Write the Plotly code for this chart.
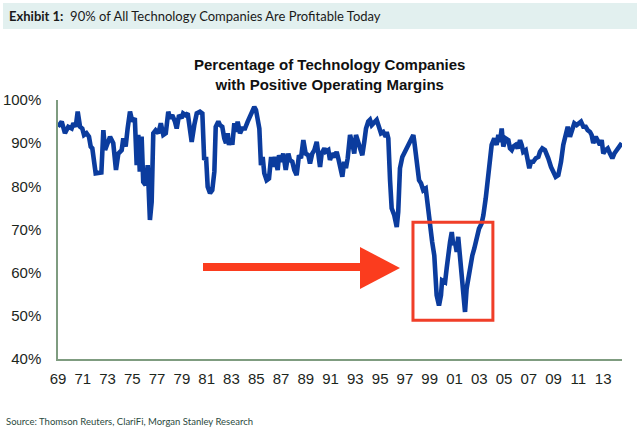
import plotly.graph_objects as go

# ---- data (decimal year, % of tech companies with positive operating margins) ----
years = [
    1969.0, 1969.3, 1969.56, 1969.83, 1970.1, 1970.24, 1970.43, 1970.59, 1970.78, 1970.96,
    1971.1, 1971.3, 1971.5, 1971.64, 1971.77, 1971.93, 1972.04, 1972.5, 1972.66, 1972.8,
    1972.93, 1973.06, 1973.2, 1973.46, 1973.68, 1973.87, 1974.14, 1974.27, 1974.46, 1974.62,
    1974.81, 1975.0, 1975.2, 1975.35, 1975.48, 1975.6, 1975.75, 1975.88, 1976.07, 1976.24,
    1976.42, 1976.56, 1976.69, 1976.88, 1977.1, 1977.3, 1977.5, 1977.7, 1977.9, 1978.04,
    1978.22, 1978.44, 1978.58, 1978.77, 1978.98, 1979.1, 1979.3, 1979.47, 1979.65, 1979.79,
    1980.0, 1980.2, 1980.46, 1980.65, 1980.8, 1980.95, 1981.08, 1981.27, 1981.45, 1981.62,
    1981.73, 1981.94, 1982.07, 1982.26, 1982.42, 1982.56, 1982.7, 1982.8, 1982.96, 1983.07,
    1983.23, 1983.34, 1983.5, 1983.69, 1983.87, 1984.09, 1984.31, 1984.5, 1984.68, 1984.84,
    1984.98, 1985.12, 1985.25, 1985.38, 1985.52, 1985.65, 1985.84, 1986.03, 1986.2, 1986.35,
    1986.5, 1986.73, 1986.84, 1987.0, 1987.18, 1987.38, 1987.59, 1987.72, 1987.91, 1988.07,
    1988.26, 1988.45, 1988.61, 1988.8, 1988.99, 1989.2, 1989.34, 1989.52, 1989.69, 1989.88,
    1990.0, 1990.15, 1990.28, 1990.5, 1990.6, 1990.82, 1990.95, 1991.14, 1991.36, 1991.49,
    1991.62, 1991.76, 1991.95, 1992.1, 1992.24, 1992.38, 1992.57, 1992.75, 1992.91, 1993.05,
    1993.24, 1993.38, 1993.56, 1993.72, 1993.86, 1994.04, 1994.18, 1994.32, 1994.53, 1994.72,
    1994.9, 1995.07, 1995.25, 1995.45, 1995.53, 1995.66, 1995.8, 1995.93, 1996.14, 1996.34,
    1996.46, 1996.6, 1996.79, 1997.0, 1997.22, 1997.41, 1997.68, 1997.76, 1997.95, 1998.14,
    1998.3, 1998.48, 1998.68, 1998.84, 1999.02, 1999.2, 1999.37, 1999.48, 1999.56, 1999.75,
    1999.91, 2000.0, 2000.24, 2000.37, 2000.5, 2000.64, 2000.78, 2000.9, 2001.04, 2001.18,
    2001.3, 2001.45, 2001.58, 2001.72, 2001.85, 2001.98, 2002.11, 2002.25, 2002.44, 2002.6,
    2002.79, 2002.98, 2003.19, 2003.33, 2003.52, 2003.68, 2003.81, 2004.0, 2004.21, 2004.4,
    2004.54, 2004.67, 2004.81, 2004.94, 2005.13, 2005.35, 2005.48, 2005.62, 2005.75, 2005.94,
    2006.1, 2006.29, 2006.42, 2006.55, 2006.75, 2006.91, 2007.04, 2007.18, 2007.36, 2007.56,
    2007.77, 2007.9, 2008.09, 2008.3, 2008.44, 2008.57, 2008.79, 2008.98, 2009.17, 2009.38,
    2009.6, 2009.78, 2009.98, 2010.14, 2010.32, 2010.51, 2010.67, 2010.86, 2011.05, 2011.21,
    2011.4, 2011.59, 2011.75, 2011.94, 2012.07, 2012.2, 2012.4, 2012.56, 2012.74, 2012.88,
    2013.01, 2013.2, 2013.37, 2013.55, 2013.74, 2013.9, 2014.09, 2014.28, 2014.5,
]
pct_positive = [
    93.8, 95.0, 92.3, 93.8, 93.4, 94.6, 93.8, 97.3, 93.8, 93.4,
    91.9, 92.3, 91.5, 89.2, 88.8, 85.7, 83.0, 83.2, 93.0, 88.4,
    89.6, 90.7, 91.5, 90.0, 83.8, 87.6, 88.4, 91.1, 89.2, 93.4,
    97.3, 95.0, 95.8, 84.9, 91.9, 83.4, 91.5, 81.0, 80.3, 84.9,
    72.2, 76.4, 92.3, 93.0, 92.3, 94.6, 91.9, 92.3, 97.3, 95.8,
    96.5, 95.0, 93.4, 96.5, 95.8, 96.9, 96.5, 96.9, 93.4, 90.3,
    94.2, 96.9, 97.3, 96.9, 86.1, 86.8, 79.9, 78.4, 79.1, 83.4,
    93.8, 95.0, 94.2, 93.8, 91.1, 90.0, 92.3, 89.6, 91.1, 89.6,
    94.6, 92.6, 95.0, 92.3, 93.4, 93.4, 95.0, 96.5, 97.3, 98.4,
    97.7, 95.0, 93.4, 84.9, 86.8, 83.0, 81.4, 81.8, 86.8, 84.5,
    86.8, 83.8, 87.2, 85.7, 87.6, 83.8, 87.6, 86.1, 85.7, 83.8,
    82.6, 87.2, 86.5, 90.7, 87.6, 87.2, 85.3, 87.6, 88.4, 90.3,
    87.6, 84.5, 87.6, 88.8, 88.0, 88.4, 86.1, 87.6, 86.8, 88.0,
    86.5, 84.2, 82.2, 85.7, 84.2, 86.5, 91.9, 90.0, 87.6, 91.9,
    90.0, 88.4, 87.2, 90.3, 93.4, 95.0, 95.4, 94.2, 95.0, 95.4,
    93.8, 92.3, 92.6, 91.5, 92.6, 91.1, 81.4, 74.9, 73.3, 70.6,
    74.1, 84.2, 86.8, 88.0, 89.6, 90.3, 91.9, 90.3, 86.1, 81.4,
    80.7, 79.1, 79.5, 74.9, 70.2, 67.1, 64.0, 59.4, 54.8, 52.4,
    54.8, 58.2, 57.8, 61.0, 64.8, 67.1, 69.4, 66.4, 67.1, 64.8,
    68.3, 63.3, 57.8, 54.0, 50.9, 56.3, 59.0, 61.0, 64.0, 65.6,
    67.9, 70.2, 71.4, 73.3, 77.2, 81.8, 85.7, 89.6, 91.1, 89.6,
    91.9, 90.3, 93.4, 89.2, 91.1, 90.7, 88.8, 88.4, 89.2, 89.6,
    88.8, 90.7, 89.6, 88.0, 88.4, 86.5, 84.2, 85.7, 85.7, 86.5,
    86.8, 88.0, 88.8, 88.4, 87.6, 86.5, 84.5, 83.0, 82.2, 82.6,
    85.7, 89.6, 91.9, 93.8, 91.5, 93.0, 94.6, 94.2, 94.6, 95.0,
    93.8, 93.8, 93.0, 92.6, 91.9, 90.0, 91.5, 90.7, 89.6, 90.7,
    87.6, 88.4, 88.8, 87.6, 86.5, 87.6, 88.4, 88.8, 90.0,
]
tick_years = list(range(1969, 2014, 2))
tick_labels = [f"{y % 100:02d}" for y in tick_years]
y_ticks = [40, 50, 60, 70, 80, 90, 100]
y_tick_labels = [f"{v}%" for v in y_ticks]
highlight_years = [1997.65, 2004.1]
highlight_pct = [49.0, 71.7]

W, H = 640, 429
L, R, T, B = 58, 18, 100, 70


def px(x):
    return (x - L) / (W - L - R)


def py(y):
    return 1 - (y - T) / (H - T - B)


fig = go.Figure()
fig.add_trace(go.Scatter(
    x=years, y=pct_positive, mode="lines",
    line=dict(color="#0b3c9e", width=4.6), hoverinfo="skip", showlegend=False,
))

axis_color = "#7f9c80"
tick_font = dict(family="Arial, Liberation Sans, sans-serif", size=15, color="#1c261c")

shapes = [
    # banner
    dict(type="rect", xref="paper", yref="paper", x0=px(3), x1=px(637), y0=py(29), y1=py(3),
         fillcolor="#e2f0ef", line=dict(width=0), layer="below"),
    # highlight box
    dict(type="rect", xref="x", yref="y", x0=highlight_years[0], x1=highlight_years[1],
         y0=highlight_pct[0], y1=highlight_pct[1], line=dict(color="#f03e28", width=3)),
    # arrow shaft
    dict(type="rect", xref="paper", yref="paper", x0=px(203), x1=px(362), y0=py(271), y1=py(263),
         fillcolor="#fb3c1e", line=dict(width=0)),
    # arrow head
    dict(type="path", xref="paper", yref="paper",
         path=f"M {px(360)} {py(247)} L {px(400)} {py(268)} L {px(360)} {py(289)} Z",
         fillcolor="#fb3c1e", line=dict(width=0)),
]

annotations = [
    dict(xref="paper", yref="paper", x=px(7), y=py(16), xanchor="left", yanchor="middle",
         text="<b>Exhibit 1:</b>  90% of All Technology Companies Are Profitable Today",
         showarrow=False, font=dict(family="Lato, sans-serif", size=13, color="#1a1a1a")),
    dict(xref="paper", yref="paper", x=px(329), y=py(74), xanchor="center", yanchor="middle",
         text="<b>Percentage of Technology Companies<br>with Positive Operating Margins</b>",
         showarrow=False, font=dict(family="Arial, Liberation Sans, sans-serif", size=15, color="#111"),
         ),
    dict(xref="paper", yref="paper", x=px(4), y=py(421), xanchor="left", yanchor="middle",
         text="Source: Thomson Reuters, ClariFi, Morgan Stanley Research",
         showarrow=False, font=dict(family="Lato, sans-serif", size=9.5, color="#2c4a40")),
]

fig.update_layout(
    width=W, height=H,
    margin=dict(l=L, r=R, t=T, b=B, autoexpand=False),
    paper_bgcolor="white", plot_bgcolor="white",
    shapes=shapes, annotations=annotations,
    xaxis=dict(range=[1969, 2014.52], tickvals=tick_years, ticktext=tick_labels,
               showgrid=False, zeroline=False, showline=True, linecolor=axis_color, linewidth=1.5,
               ticks="", tickfont=tick_font, ticklabelstandoff=5),
    yaxis=dict(range=[40, 100], tickvals=y_ticks, ticktext=y_tick_labels,
               showgrid=False, zeroline=False, showline=True, linecolor=axis_color, linewidth=1.5,
               ticks="", tickfont=tick_font, ticklabelstandoff=12),
)

fig.write_html("out.html", config={"displayModeBar": False},
               post_script="document.body.style.margin='0';document.body.style.overflow='hidden';")
